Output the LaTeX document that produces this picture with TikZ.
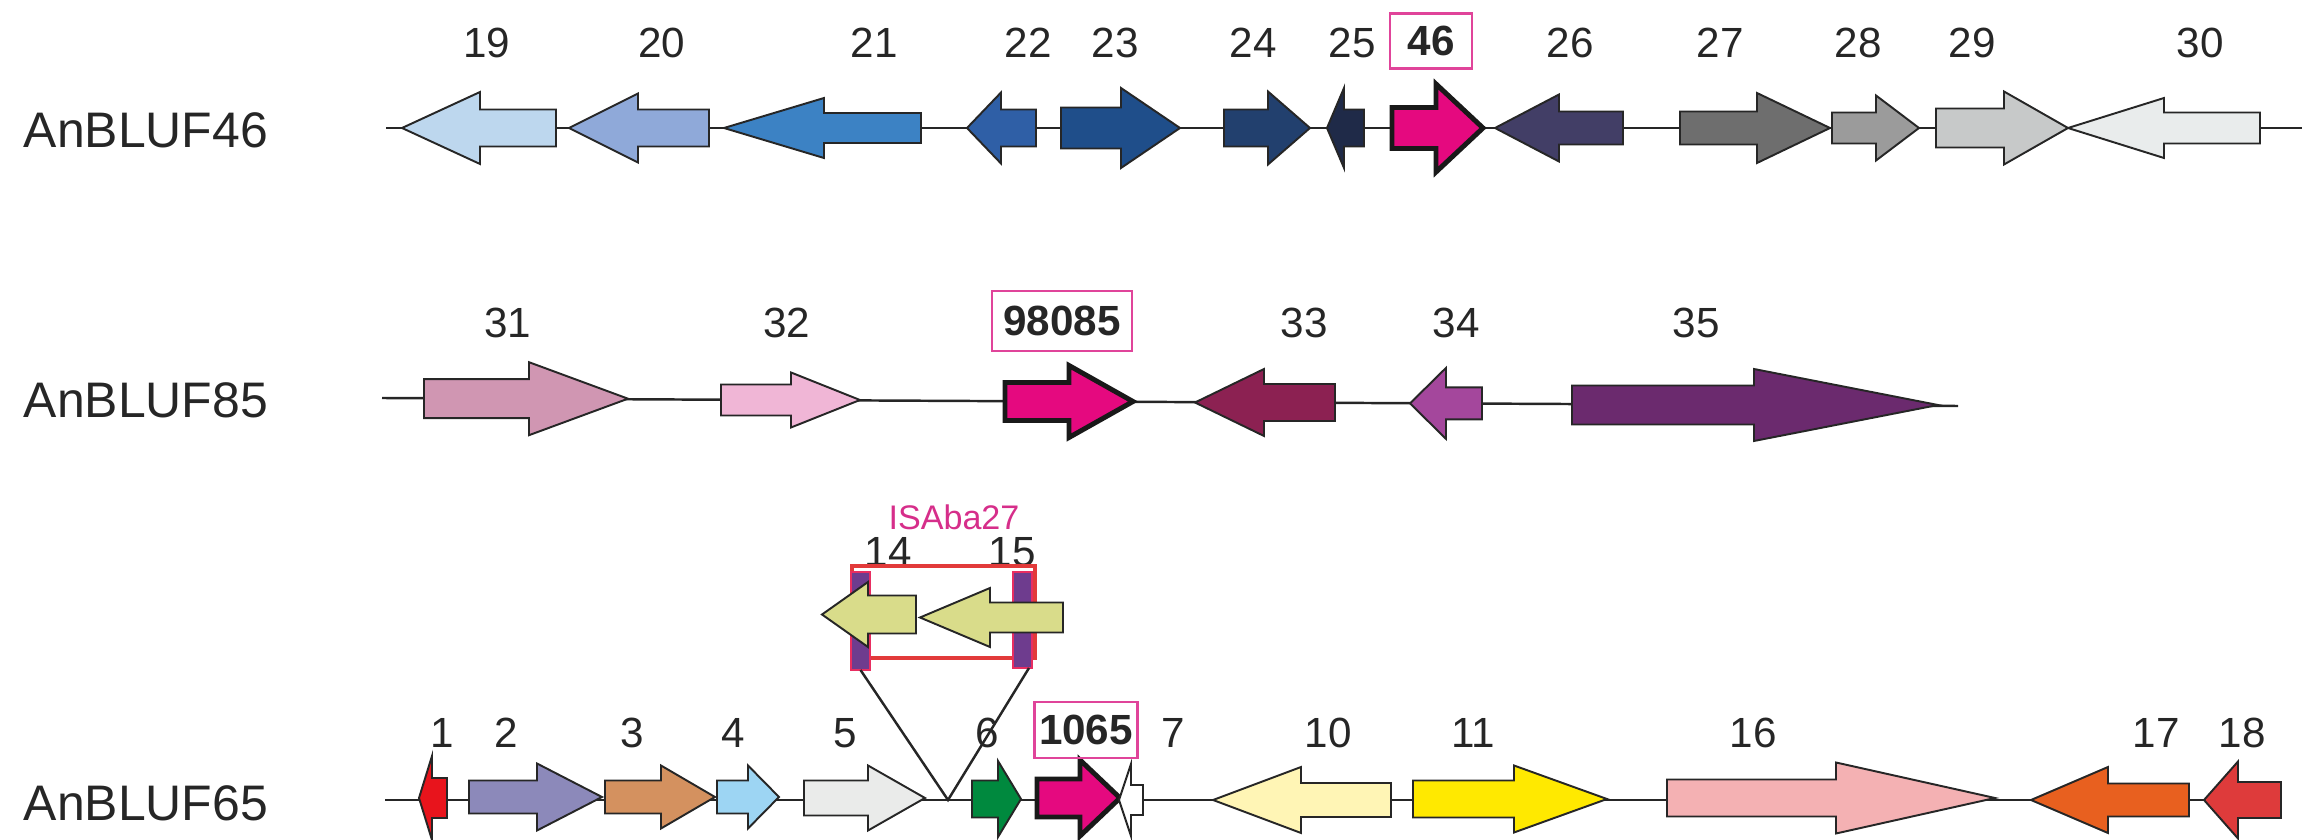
\documentclass[tikz,border=0pt]{standalone}
\usepackage{fontspec}
\setmainfont{Liberation Sans}
\definecolor{c19}{HTML}{BDD7EE}
\definecolor{c20}{HTML}{8FA9D9}
\definecolor{c21}{HTML}{3C82C4}
\definecolor{c22}{HTML}{2F5FA6}
\definecolor{c23}{HTML}{1F4E8A}
\definecolor{c24}{HTML}{22406E}
\definecolor{c25}{HTML}{1F2A48}
\definecolor{cpink}{HTML}{E5097F}
\definecolor{c26}{HTML}{423E66}
\definecolor{c27}{HTML}{6E6E6E}
\definecolor{c28}{HTML}{9B9B9B}
\definecolor{c29}{HTML}{C7C9C9}
\definecolor{c30}{HTML}{E9ECEC}
\definecolor{c31}{HTML}{D096B2}
\definecolor{c32}{HTML}{F0B6D6}
\definecolor{c33}{HTML}{8C2152}
\definecolor{c34}{HTML}{A4479C}
\definecolor{c35}{HTML}{6B2A6E}
\definecolor{r1}{HTML}{E8141C}
\definecolor{r2}{HTML}{8C89BA}
\definecolor{r3}{HTML}{D4915F}
\definecolor{r4}{HTML}{9DD5F3}
\definecolor{r5}{HTML}{EAEBEA}
\definecolor{r6}{HTML}{00893E}
\definecolor{r10}{HTML}{FFF5B5}
\definecolor{r11}{HTML}{FFE900}
\definecolor{r16}{HTML}{F4B1B3}
\definecolor{r17}{HTML}{E8601F}
\definecolor{r18}{HTML}{DE3B3B}
\definecolor{khaki}{HTML}{D9DC8A}
\definecolor{pbar}{HTML}{6E3C8E}
\definecolor{redbox}{HTML}{E23A3A}
\definecolor{magtext}{HTML}{D62E8A}
\definecolor{boxline}{HTML}{E0449A}
\tikzset{
  gene/.style={draw=black!85,line width=0.55pt,line join=miter},
  hilite/.style={line width=1.4pt,draw=black!90},
  backbone/.style={draw=black!85,line width=0.7pt},
  num/.style={inner sep=0pt,font=\fontsize{12}{12}\selectfont,text=black!85},
  rowlabel/.style={inner sep=0pt,anchor=west,font=\fontsize{14.2}{14.2}\selectfont,text=black!85},
  idbox/.style={draw=boxline,line width=0.6pt,inner sep=0pt,font=\fontsize{12}{12}\selectfont\bfseries,text=black!85},
}
% right-pointing gene: [opts]{xl}{xh}{xt}{yc}{bh}{hh}{colour}
\newcommand{\geneR}[8][]{%
  \draw[gene,fill=#8,#1] (#2,#5-#6) -- (#3,#5-#6) -- (#3,#5-#7) -- (#4,#5)
    -- (#3,#5+#7) -- (#3,#5+#6) -- (#2,#5+#6) -- cycle;}
% left-pointing gene: [opts]{xt}{xh}{xr}{yc}{bh}{hh}{colour}
\newcommand{\geneL}[8][]{%
  \draw[gene,fill=#8,#1] (#2,#5) -- (#3,#5-#7) -- (#3,#5-#6) -- (#4,#5-#6)
    -- (#4,#5+#6) -- (#3,#5+#6) -- (#3,#5+#7) -- cycle;}
\begin{document}
\begin{tikzpicture}[x=0.01cm,y=-0.01cm]
\useasboundingbox (0,0) rectangle (2302,840);

% ---------- Row 1 : AnBLUF46 ----------
\node[rowlabel] (lab46) at (23,130) {AnBLUF46};
\coordinate (r1s) at (386,128);
\coordinate (r1e) at (2302,128);
\draw[backbone] (r1s) -- (r1e);
\geneL{402}{480}{556}{128}{18.5}{36}{c19}
\geneL{569}{638}{709}{128}{18.5}{34.5}{c20}
\geneL{724}{824}{921}{128}{15}{30}{c21}
\geneL{967}{1001}{1036}{128}{18.5}{35.5}{c22}
\geneR{1061}{1121}{1180}{128}{20.5}{40}{c23}
\geneR{1224}{1268}{1310}{128}{18.5}{36.5}{c24}
\geneL{1327}{1344}{1364}{128}{18.5}{40}{c25}
\geneR[hilite]{1392}{1436}{1483}{128}{20.5}{44}{cpink}
\geneL{1495}{1559}{1623}{128}{16.5}{33.5}{c26}
\geneR{1680}{1757}{1830}{128}{16.5}{35}{c27}
\geneR{1832}{1876}{1919}{128}{15.5}{32.5}{c28}
\geneR{1936}{2004}{2068}{128}{19.5}{36.5}{c29}
\geneL{2068}{2164}{2260}{128}{15.5}{30}{c30}
\node[num] (n19) at (487,43) {19};
\node[num] (n20) at (662,43) {20};
\node[num] (n21) at (874,43) {21};
\node[num] (n22) at (1028,43) {22};
\node[num] (n23) at (1115,43) {23};
\node[num] (n24) at (1253,43) {24};
\node[num] (n25) at (1352,43) {25};
\node[idbox,minimum width=8.2mm,minimum height=5.5mm] (n46) at (1431,41) {46};
\node[num] (n26) at (1570,43) {26};
\node[num] (n27) at (1720,43) {27};
\node[num] (n28) at (1858,43) {28};
\node[num] (n29) at (1972,43) {29};
\node[num] (n30) at (2200,43) {30};

% ---------- Row 2 : AnBLUF85 ----------
\node[rowlabel] (lab85) at (23,400) {AnBLUF85};
\coordinate (r2s) at (382,398);
\coordinate (r2e) at (1958,406);
\draw[backbone] (r2s) -- (r2e);
\geneR{424}{529}{628}{398.7}{19.5}{36.5}{c31}
\geneR{721}{791}{860}{400}{15.5}{27.5}{c32}
\geneR[hilite]{1005}{1069}{1133}{401.5}{19}{36}{cpink}
\geneL{1195}{1264}{1335}{402.5}{18.5}{33.5}{c33}
\geneL{1410}{1446}{1482}{403.4}{16}{35.5}{c34}
\geneR{1572}{1754}{1938}{405}{19.5}{36}{c35}
\node[num] (n31) at (508,323) {31};
\node[num] (n32) at (787,323) {32};
\node[idbox,minimum width=14mm,minimum height=6mm] (n98085) at (1062,321) {98085};
\node[num] (n33) at (1304,323) {33};
\node[num] (n34) at (1456,323) {34};
\node[num] (n35) at (1696,323) {35};

% ---------- Row 3 : AnBLUF65 ----------
\node[rowlabel] (lab65) at (23,803) {AnBLUF65};
\coordinate (r3s) at (385,800);
\coordinate (r3e) at (2281,800);
\coordinate (junc) at (948,800);
\draw[backbone] (r3s) -- (r3e);
\geneL{419}{432}{447}{798}{20}{42}{r1}
\geneR{469}{537}{602}{797}{16.5}{33.5}{r2}
\geneR{605}{661}{715}{797}{16.5}{31.5}{r3}
\geneR{717}{748}{779}{797}{16.5}{31.5}{r4}
\geneR{804}{868}{925}{798}{17.5}{32.5}{r5}
\geneR{972}{998}{1021}{799}{18.5}{38}{r6}
\geneR[hilite]{1037}{1080}{1120}{798}{19}{38}{cpink}
\geneL{1119}{1131}{1143}{800}{15}{36}{white}
\geneL{1213}{1301}{1391}{800}{17}{33}{r10}
\geneR{1413}{1514}{1607}{799}{18.5}{33.5}{r11}
\geneR{1667}{1836}{1995}{798}{18.5}{35.5}{r16}
\geneL{2031}{2108}{2189}{800}{16.5}{33}{r17}
\geneL{2204}{2238}{2281}{800}{18}{38.5}{r18}
\node[num] (n1) at (442,733) {1};
\node[num] (n2) at (506,733) {2};
\node[num] (n3) at (632,733) {3};
\node[num] (n4) at (733,733) {4};
\node[num] (n5) at (845,733) {5};
\node[num] (n6) at (987,733) {6};
\node[idbox,minimum width=10.3mm,minimum height=5.6mm] (n1065) at (1086,730) {1065};
\node[num] (n7) at (1173,733) {7};
\node[num] (n10) at (1328,733) {10};
\node[num] (n11) at (1473,733) {11};
\node[num] (n16) at (1753,733) {16};
\node[num] (n17) at (2156,733) {17};
\node[num] (n18) at (2242,733) {18};

% ---------- Inset : ISAba27 ----------
\node[inner sep=0pt,font=\fontsize{9.7}{9.7}\selectfont,text=magtext] (isl) at (954,517) {ISAba27};
\node[num] (n14) at (888,552) {14};
\node[num] (n15) at (1012,552) {15};
\draw[redbox,line width=0.9pt] (852,566) rectangle (1035,658);
\draw[fill=pbar,draw=redbox!80!magenta,line width=0.4pt] (851,572) rectangle (870,670);
\draw[fill=pbar,draw=redbox!80!magenta,line width=0.4pt] (1013,572) rectangle (1032,668);
\coordinate (lbar) at (860.5,670);
\coordinate (rbar) at (1029,668);
\draw[backbone] (lbar) -- (junc) -- (rbar);
\geneL{822}{868}{916}{614.5}{19}{32.5}{khaki}
\geneL{920}{990}{1063}{617.5}{15}{29.5}{khaki}
\end{tikzpicture}
\end{document}
